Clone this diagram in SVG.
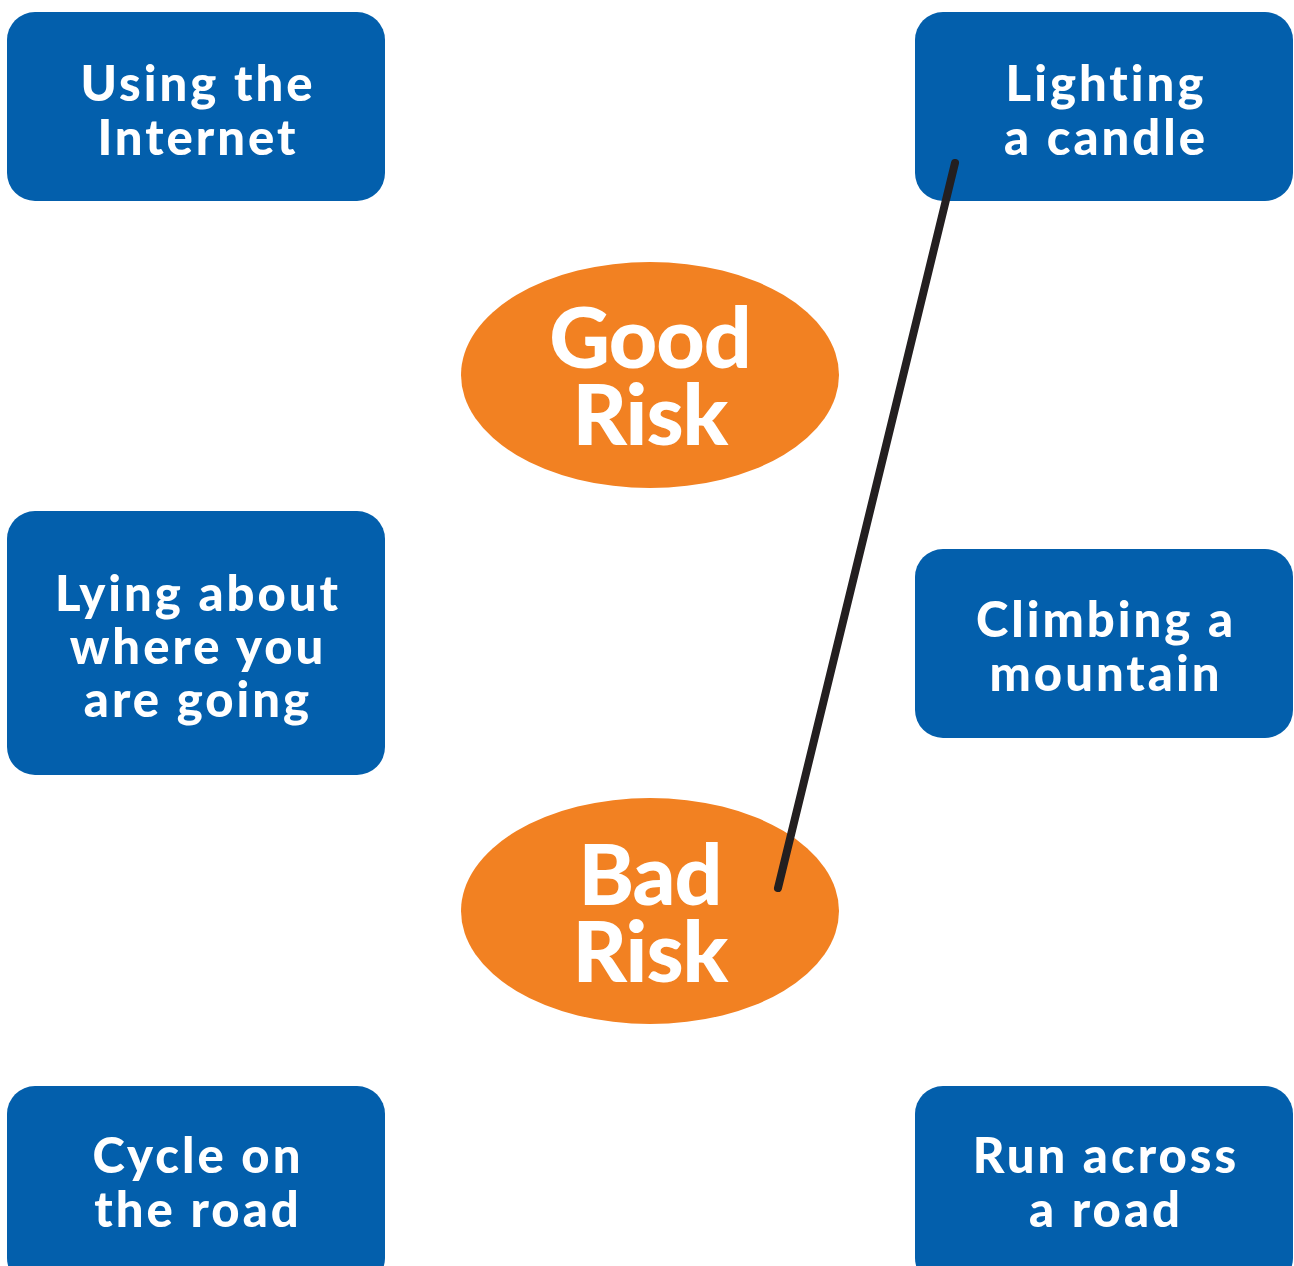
<svg xmlns="http://www.w3.org/2000/svg" width="1294" height="1266" viewBox="0 0 1294 1266">
<style>
.box{fill:#035fac}
.ell{fill:#f28122}
.t{font-family:Lato,"Open Sans","DejaVu Sans",sans-serif;font-weight:900;fill:#fff;text-anchor:middle;font-size:49px;letter-spacing:3px}
.big{font-size:84px;letter-spacing:-1px}
.conn{stroke:#231f20;stroke-width:8;stroke-linecap:round;fill:none}
</style>
<rect width="1294" height="1266" fill="#fff"/>
<g id="n-internet"><rect class="box" x="7" y="12" width="378" height="189" rx="28"/><text class="t" x="198" y="101">Using the</text><text class="t" x="198" y="155">Internet</text></g>
<g id="n-candle"><rect class="box" x="915" y="12" width="378" height="189" rx="28"/><text class="t" x="1106" y="101">Lighting</text><text class="t" x="1106" y="155">a candle</text></g>
<g id="n-lying"><rect class="box" x="7" y="511" width="378" height="264" rx="28"/><text class="t" x="198" y="611">Lying about</text><text class="t" x="198" y="664">where you</text><text class="t" x="198" y="717">are going</text></g>
<g id="n-climbing"><rect class="box" x="915" y="549" width="378" height="189" rx="28"/><text class="t" x="1106" y="637">Climbing a</text><text class="t" x="1106" y="691">mountain</text></g>
<g id="n-cycle"><rect class="box" x="7" y="1086" width="378" height="200" rx="28"/><text class="t" x="198" y="1173">Cycle on</text><text class="t" x="198" y="1227">the road</text></g>
<g id="n-run"><rect class="box" x="915" y="1086" width="378" height="200" rx="28"/><text class="t" x="1106" y="1173">Run across</text><text class="t" x="1106" y="1227">a road</text></g>
<g id="n-good"><ellipse class="ell" cx="650" cy="375" rx="189" ry="113"/><text class="t big" x="650" y="368">Good</text><text class="t big" x="650" y="445">Risk</text></g>
<g id="n-bad"><ellipse class="ell" cx="650" cy="911" rx="189" ry="113"/><text class="t big" x="650" y="905">Bad</text><text class="t big" x="650" y="982">Risk</text></g>
<g id="connectors"><line class="conn" x1="955" y1="163" x2="778" y2="888"/></g>
</svg>
